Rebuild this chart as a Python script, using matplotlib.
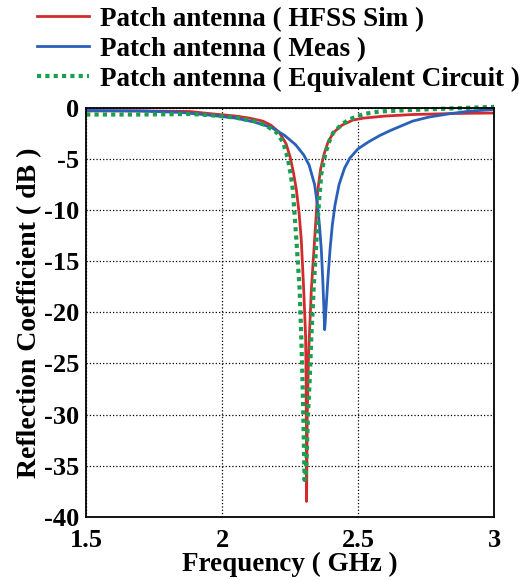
import matplotlib.pyplot as plt

freq_sim = [1.5, 1.7, 1.88, 1.95, 2.05, 2.10, 2.15, 2.18, 2.21, 2.235, 2.25, 2.262,
            2.273, 2.283, 2.291, 2.300, 2.307, 2.309, 2.310, 2.3105, 2.313, 2.318,
            2.328, 2.340, 2.352, 2.362, 2.375, 2.39, 2.41, 2.44, 2.48, 2.52, 2.6,
            2.7, 2.85, 3.0]
s11_sim = [-0.3, -0.3, -0.35, -0.55, -0.8, -1.0, -1.3, -1.7, -2.4, -3.5, -4.8, -6.3,
           -8.0, -10.3, -12.9, -17.8, -22.4, -27.0, -33.0, -38.5, -30.0, -24.0,
           -17.8, -12.9, -8.0, -6.0, -4.5, -3.3, -2.4, -1.7, -1.2, -1.0, -0.8,
           -0.65, -0.55, -0.5]

freq_meas = [1.5, 1.7, 1.85, 1.95, 2.05, 2.12, 2.18, 2.23, 2.27, 2.30, 2.32, 2.34,
             2.35, 2.358, 2.365, 2.370, 2.374, 2.377, 2.380, 2.384, 2.39, 2.397,
             2.405, 2.415, 2.43, 2.45, 2.47, 2.50, 2.54, 2.58, 2.62, 2.66, 2.70,
             2.76, 2.83, 2.90, 3.0]
s11_meas = [-0.25, -0.3, -0.45, -0.7, -1.0, -1.4, -1.9, -2.7, -3.6, -4.6, -5.6, -7.5,
            -9.4, -11.5, -14.0, -16.8, -19.5, -21.7, -20.5, -18.8, -16.3, -13.8,
            -11.5, -9.5, -7.5, -5.9, -4.9, -4.0, -3.3, -2.7, -2.2, -1.75, -1.3,
            -0.9, -0.6, -0.35, -0.15]

freq_eq = [1.5, 1.7, 1.88, 1.95, 2.05, 2.12, 2.16, 2.2, 2.225, 2.242, 2.252, 2.26,
           2.273, 2.285, 2.291, 2.296, 2.300, 2.303, 2.307, 2.310, 2.316, 2.322,
           2.328, 2.338, 2.347, 2.356, 2.365, 2.38, 2.395, 2.408, 2.44, 2.47, 2.52,
           2.58, 2.7, 2.85, 3.0]
s11_eq = [-0.65, -0.65, -0.6, -0.7, -0.95, -1.3, -1.7, -2.4, -3.4, -5.0, -6.5, -8.0,
          -12.9, -17.8, -22.4, -27.0, -32.0, -36.4, -35.8, -34.7, -29.8, -26.6,
          -22.4, -17.0, -12.9, -9.3, -6.4, -4.4, -3.2, -2.45, -1.6, -1.1, -0.6,
          -0.35, -0.2, -0.05, 0.1]

labels = ["Patch antenna ( HFSS Sim )", "Patch antenna ( Meas )",
          "Patch antenna ( Equivalent Circuit )"]

plt.rcParams['font.family'] = ['Liberation Serif', 'DejaVu Serif']
plt.rcParams['font.weight'] = 'bold'
plt.rcParams['axes.unicode_minus'] = False

fig = plt.figure(figsize=(5.19, 5.8), dpi=100)
ax = fig.add_axes([0.166, 0.109, 0.786, 0.705])

ax.plot(freq_sim, s11_sim, color="#d42a2e", lw=2.0, label=labels[0])
ax.plot(freq_meas, s11_meas, color="#2a60b8", lw=2.0, label=labels[1])
ax.plot(freq_eq, s11_eq, color="#1a9e50", lw=3.0, linestyle=(0, (1, 1)),
        label=labels[2], clip_on=False)

ax.set_xlim(1.5, 3)
ax.set_ylim(-40, 0)
ax.set_xticks([1.5, 2, 2.5, 3])
ax.set_xticklabels(["1.5", "2", "2.5", "3"])
ax.set_yticks(range(-40, 1, 5))
ax.grid(True, color="black", linestyle=":", lw=0.9)
ax.tick_params(length=0, labelsize=19)
ax.tick_params(axis="y", pad=5)
ax.tick_params(axis="x", pad=9)
for s in ax.spines.values():
    s.set_linewidth(1.3)

ax.set_xlabel("Frequency ( GHz )", fontsize=19.5, fontweight="bold", labelpad=0)
ax.set_ylabel("Reflection Coefficient ( dB )", fontsize=20, fontweight="bold",
              labelpad=1)

fig.legend(loc="upper left", bbox_to_anchor=(0.072, 0.988), frameon=False,
           fontsize=19.5, handlelength=1.9, handletextpad=0.4, labelspacing=0.18,
           borderaxespad=0, borderpad=0)

plt.savefig("out.png", dpi=100)
